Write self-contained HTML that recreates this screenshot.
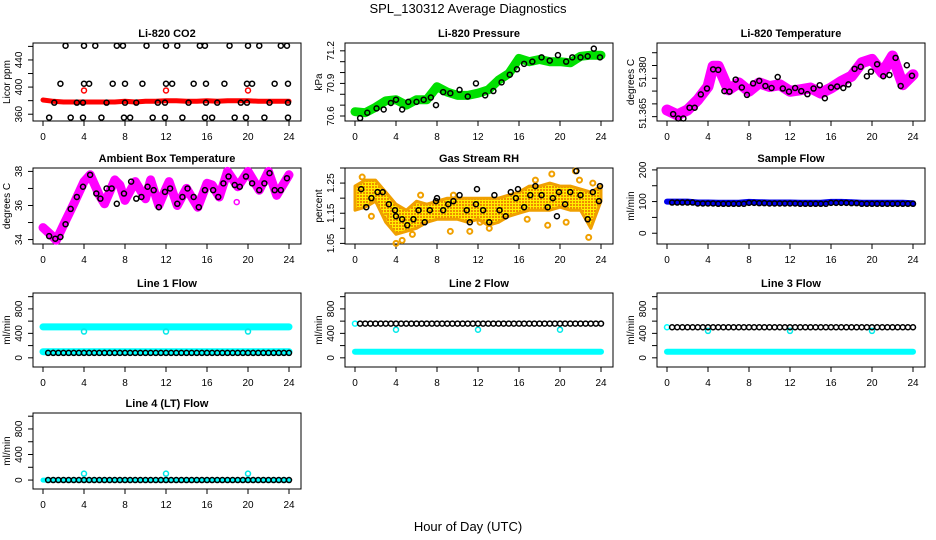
<!DOCTYPE html>
<html><head><meta charset="utf-8"><style>
html,body{margin:0;padding:0;background:#fff;}
svg{display:block;font-family:"Liberation Sans",sans-serif;}
</style></head><body>
<svg id="chart" width="936" height="540" viewBox="0 0 936 540">
<defs>
<pattern id="rhpat" width="3" height="3" patternUnits="userSpaceOnUse"><rect width="3" height="3" fill="#ffee00"/><rect x="0" y="0" width="2" height="2" fill="#f08c00"/></pattern>
</defs>
<text x="468" y="13" text-anchor="middle" font-size="13">SPL_130312  Average Diagnostics</text>
<text x="468" y="531" text-anchor="middle" font-size="13">Hour of Day (UTC)</text>
</svg>
<script>
// ---------- data ----------
const hours = [0,1,2,3,4,5,6,7,8,9,10,11,12,13,14,15,16,17,18,19,20,21,22,23,24];
const xTicks = [0,4,8,12,16,20,24];
// CO2
const co2Red = [381,379,378,378,378,378,378,378,379,378,379,379,380,380,379,379,380,379,380,380,380,379,379,379,379];
const co2Spike = [395,395,395];
const spikeTimes = [4,12,20];
const co2TopT = [2.2,4,5.1,7.2,7.8,10.1,12,13.1,15.3,15.8,18.2,20,21.1,23.2,23.8];
const co2MidT = [1.7,4,4.5,6.8,8,9.7,12,12.6,14.7,15.9,17.7,19.9,20.4,22.6,23.9];
const co2LowT = [1.1,3.3,3.9,6.2,8,9.1,11.2,11.9,14.2,15.9,17,19.3,19.9,22.1,23.9];
const co2BotT = [0.6,2.7,3.9,5.7,7.9,8.5,10.7,11.9,13.6,15.8,16.5,18.7,19.8,21.6,23.9];
const co2Levels = [461,405,377,355];
// Pressure
const presGreen = [70.64,70.63,70.68,70.74,70.75,70.70,70.75,70.75,70.87,70.82,70.79,70.79,70.81,70.84,70.93,70.99,71.13,71.10,71.12,71.10,71.10,71.09,71.15,71.16,71.16];
const presBlackT = [0.5,1.2,2.1,2.8,3.5,4,4.6,5.2,6,6.7,7.4,7.9,8.6,9.3,10.2,11,11.8,12.7,13.5,14.3,15.1,15.8,16.5,17.3,18.2,19,19.8,20.6,21.2,22,22.7,23.3,23.9];
const presBlack = [70.58,70.63,70.67,70.66,70.72,70.75,70.66,70.73,70.73,70.75,70.77,70.70,70.82,70.81,70.84,70.78,70.90,70.79,70.83,70.91,70.98,71.03,71.08,71.10,71.14,71.11,71.16,71.10,71.14,71.14,71.15,71.22,71.14];
// Li-820 temperature
const ltT = [0,1,2,3,4,4.5,5,6,7,8,9,10,11,12,13,14,15,16,17,18,19,20,21,22,23,24];
const ltMag = [51.3676,51.3657,51.3676,51.3716,51.3768,51.3847,51.3847,51.3755,51.3782,51.3749,51.3782,51.3768,51.3775,51.3749,51.3755,51.3762,51.3742,51.3762,51.3788,51.3808,51.3861,51.3874,51.3821,51.3887,51.3775,51.3814];
const ltBlackT = [0.6,1.1,1.6,2.2,2.7,3.3,3.9,4.5,5.0,5.6,6.1,6.7,7.3,7.8,8.4,9.0,9.6,10.2,10.8,11.3,11.9,12.5,13.1,13.7,14.3,14.9,15.4,16.0,16.6,17.2,17.7,18.3,18.9,19.5,19.9,20.5,21.1,21.7,22.3,22.8,23.4,23.9];
const ltBlack = [51.3660,51.3643,51.3643,51.3685,51.3685,51.3737,51.3760,51.3835,51.3833,51.3750,51.3748,51.3795,51.3764,51.3735,51.3780,51.3790,51.3770,51.3762,51.3805,51.3760,51.3748,51.3762,51.3750,51.3738,51.3760,51.3773,51.3722,51.3764,51.3768,51.3762,51.3776,51.3837,51.3845,51.3808,51.3826,51.3855,51.3808,51.3813,51.3880,51.3770,51.3851,51.3810];
// Ambient box temperature
const abT = [0,1,1.3,2,3,4,4.6,5.5,6,7,7.5,8,9,10,10.5,11.3,12,12.3,13.1,14,15.1,16,16.5,17.2,18,19,20,21.1,22,22.8,24];
const abMag = [34.7,34.15,33.96,34.85,36.1,37.4,37.8,36.6,36.1,37.5,37.2,36.3,37.4,36.4,37.5,36.0,37.0,37.4,36.0,37.0,35.9,37.3,37.2,36.5,38.0,37.1,38.0,36.9,38.0,36.6,37.8];
const abBlackT = [0.6,1.2,1.7,2.2,2.7,3.3,3.9,4.6,5.2,5.6,6.2,6.7,7.2,7.9,8.6,9.1,9.6,10.2,10.8,11.3,11.9,12.4,13.1,13.6,14.1,14.7,15.2,15.8,16.6,17.1,17.6,18.1,18.7,19.2,19.8,20.4,21.1,21.6,22.1,22.6,23.2,23.8];
const abBlack = [34.2,34.05,34.15,34.9,35.8,36.5,37.1,37.8,36.7,36.4,37.0,37.0,36.1,36.7,37.4,36.4,36.5,37.1,36.9,35.9,36.8,37.0,36.1,36.5,37.0,36.5,35.9,36.9,36.9,36.5,37.3,37.7,37.2,37.1,37.7,37.3,36.9,37.3,37.9,36.9,36.9,37.6];
// Gas stream RH
const rhUpper = [1.24,1.26,1.26,1.22,1.18,1.16,1.19,1.18,1.19,1.20,1.20,1.20,1.20,1.20,1.20,1.21,1.22,1.24,1.24,1.25,1.24,1.24,1.23,1.22,1.24];
const rhLower = [1.16,1.17,1.19,1.12,1.08,1.09,1.10,1.12,1.13,1.13,1.13,1.12,1.13,1.11,1.12,1.14,1.15,1.16,1.16,1.16,1.17,1.16,1.16,1.10,1.19];
const rhOutT = [0.7,1.6,3.0,4.0,4.6,5.6,6.4,9.3,9.6,11.2,12.2,13.1,16.8,17.6,18.8,19.2,20.6,21.5,21.9,22.8,23.2];
const rhOut = [1.27,1.14,1.14,1.05,1.06,1.08,1.21,1.09,1.21,1.09,1.12,1.10,1.13,1.26,1.11,1.28,1.12,1.29,1.26,1.07,1.25];
const rhBlackT = [0.6,1.1,1.6,2.2,2.7,3.3,3.9,4.0,4.6,5.1,5.7,6.2,6.8,7.3,7.9,8.0,8.6,9.1,9.6,10.2,10.9,11.2,11.8,11.9,12.5,13.1,13.6,14.1,14.7,15.2,15.7,15.9,16.5,17.1,17.6,18.2,18.8,19.3,19.7,19.9,20.5,21.0,21.6,22.0,22.7,23.2,23.8,23.9];
const rhBlack = [1.23,1.17,1.20,1.22,1.22,1.18,1.16,1.14,1.13,1.11,1.13,1.16,1.12,1.16,1.19,1.20,1.16,1.18,1.19,1.21,1.16,1.12,1.18,1.23,1.16,1.12,1.21,1.16,1.14,1.22,1.20,1.23,1.17,1.21,1.24,1.21,1.17,1.20,1.14,1.22,1.18,1.22,1.29,1.21,1.13,1.22,1.19,1.24];
// Sample flow
const sfBlue = [100,100,100,97,97,96,96,96,99,98,97,97,97,96,96,96,99,99,98,96,96,96,96,96,95];
const sfBlack = [97,97,97,94,94,93,93,93,96,95,94,94,94,93,93,93,96,96,95,93,93,93,93,93,93];
// Line flows
const l1Cyan = [505,505,505,505,505,505,505,505,505,505,505,505,505,505,505,505,505,505,505,505,505,505,505,505,505];
const l1CyanLow = [100,100,100,100,100,100,100,100,100,100,100,100,100,100,100,100,100,100,100,100,100,100,100,100,100];
const l1Black = [80,80,80,80,80,80,80,80,80,80,80,80,80,80,80,80,80,80,80,80,80,80,80,80,80];
const l1Dip = [430,430,430];
const l2Black = [560,560,560,560,560,560,560,560,560,560,560,560,560,560,560,560,560,560,560,560,560,560,560,560,560];
const l2Cyan = [100,100,100,100,100,100,100,100,100,100,100,100,100,100,100,100,100,100,100,100,100,100,100,100,100];
const l2Dip = [460,460,460];
const l3Black = [500,500,500,500,500,500,500,500,500,500,500,500,500,500,500,500,500,500,500,500,500,500,500,500,500];
const l3Cyan = [100,100,100,100,100,100,100,100,100,100,100,100,100,100,100,100,100,100,100,100,100,100,100,100,100];
const l3Dip = [440,440,440];
const l4Black = [0,0,0,0,0,0,0,0,0,0,0,0,0,0,0,0,0,0,0,0,0,0,0,0,0];
const l4Spike = [100,100,100];

// ---------- drawing ----------
const NS = "http://www.w3.org/2000/svg";
const svg = document.getElementById('chart');
function mk(tag, attrs, parent){
  const e = document.createElementNS(NS, tag);
  for (const k in attrs) e.setAttribute(k, attrs[k]);
  (parent||svg).appendChild(e);
  return e;
}
const rows = [{top:43,h:78},{top:168,h:76},{top:293,h:74},{top:413,h:76}];
function makePanel(col,row,title,ylab,ymin,ymax,yticks,ylabels,name){
  const off = col*312, r = rows[row];
  const g = mk('g',{});
  
  
  const P = {
    g: g,
    x: t => 43 + off + t*(246/24),
    y: v => r.top + r.h - (v - ymin)/(ymax - ymin)*r.h
  };
  const box = mk('rect',{x:33+off,y:r.top,width:268,height:r.h,fill:'none',stroke:'#000','stroke-width':1},g);
  
  
  const tt = mk('text',{x:167+off,y:r.top-6,'text-anchor':'middle','font-size':11,'font-weight':'bold'},g);
  tt.textContent = title;
  
  
  const yb = r.top + r.h;
  for (const t of xTicks){
    mk('line',{x1:P.x(t),x2:P.x(t),y1:yb,y2:yb+5,stroke:'#000'},g);
    const lt = mk('text',{x:P.x(t),y:yb+19,'text-anchor':'middle','font-size':10},g);
    lt.textContent = t;
    
    
  }
  mk('line',{x1:P.x(0),x2:P.x(24),y1:yb,y2:yb,stroke:'#000'},g);
  for (const v of yticks){
    mk('line',{x1:33+off,x2:28+off,y1:P.y(v),y2:P.y(v),stroke:'#000'},g);
  }
  for (let i=0;i<ylabels.length;i++){
    const v = ylabels[i][0];
    const lt = mk('text',{x:0,y:0,'text-anchor':'middle','font-size':10,transform:`translate(${22+off},${P.y(v)}) rotate(-90)`},g);
    lt.textContent = ylabels[i][1];
    
    
  }
  const yt = mk('text',{x:0,y:0,'text-anchor':'middle','font-size':10,transform:`translate(${10+off},${r.top+r.h/2}) rotate(-90)`},g);
  yt.textContent = ylab;
  
  
  return P;
}
function band(P,ts,vs,color,w){
  const pts = ts.map((t,i)=>P.x(t).toFixed(1)+','+P.y(vs[i]).toFixed(1)).join(' ');
  const pl = mk('polyline',{points:pts,fill:'none',stroke:color,'stroke-width':w,'stroke-linejoin':'round','stroke-linecap':'round'},P.g);
  
  
}
function pts(P,ts,vs,color,r,sw){
  for (let i=0;i<ts.length;i++){
    const c = mk('circle',{cx:P.x(ts[i]),cy:P.y(vs[i]),r:r||2.5,fill:'none',stroke:color,'stroke-width':sw||1.5},P.g);
    
    
  }
}
function halfPts(P,vals,color,start){
  for (let i=0;i<vals.length;i++){
    for (const d of [0, 0.5]){
      const t = i + d;
      if (t < start || t > 24) continue;
      const c = mk('circle',{cx:P.x(t),cy:P.y(vals[i]),r:2.5,fill:'none',stroke:color,'stroke-width':1.5},P.g);
      
      
    }
  }
}

// CO2
let P = makePanel(0,0,'Li-820 CO2','Licor ppm',350,465,[360,380,400,420,440,460],[[360,'360'],[400,'400'],[440,'440']],'co2-panel');
band(P,hours,co2Red,'#ff0000',5);
pts(P,spikeTimes,co2Spike,'#ff0000');
pts(P,co2TopT,co2TopT.map(()=>co2Levels[0]),'#000');
pts(P,co2MidT,co2MidT.map(()=>co2Levels[1]),'#000');
pts(P,co2LowT,co2LowT.map(()=>co2Levels[2]),'#000');
pts(P,co2BotT,co2BotT.map(()=>co2Levels[3]),'#000');

// Pressure
P = makePanel(1,0,'Li-820 Pressure','kPa',70.554,71.272,[70.6,70.7,70.8,70.9,71.0,71.1,71.2],[[70.6,'70.6'],[70.9,'70.9'],[71.2,'71.2']],'pressure-panel');
band(P,hours,presGreen,'#00e000',9);
pts(P,presBlackT,presBlack,'#000');

// Li-820 temperature
P = makePanel(2,0,'Li-820 Temperature','degrees C',51.3633,51.3938,[51.365,51.370,51.375,51.380,51.385,51.390],[[51.3663,'51.365'],[51.3825,'51.380']],'li820-temperature-panel');
band(P,ltT,ltMag,'#ff00ff',11);
pts(P,ltBlackT,ltBlack,'#000');

// Ambient box temperature
P = makePanel(0,1,'Ambient Box Temperature','degrees C',33.74,38.2,[34,35,36,37,38],[[34,'34'],[36,'36'],[38,'38']],'ambient-temperature-panel');
band(P,abT,abMag,'#ff00ff',9);
pts(P,[18.9],[36.2],'#ff00ff');
pts(P,abBlackT,abBlack,'#000');

// Gas stream RH
P = makePanel(1,1,'Gas Stream RH','percent',1.048,1.30,[1.05,1.10,1.15,1.20,1.25,1.30],[[1.05,'1.05'],[1.15,'1.15'],[1.25,'1.25']],'gas-rh-panel');
{
  const up = hours.map((t,i)=>P.x(t).toFixed(1)+','+P.y(rhUpper[i]).toFixed(1));
  const lo = hours.map((t,i)=>P.x(t).toFixed(1)+','+P.y(rhLower[i]).toFixed(1)).reverse();
  const pg = mk('polygon',{points:up.concat(lo).join(' '),fill:'url(#rhpat)',stroke:'#f0a000','stroke-width':3,'stroke-linejoin':'round'},P.g);
  
  
}
pts(P,rhOutT,rhOut,'#f0a000',2.5,2);
pts(P,rhBlackT,rhBlack,'#000');

// Sample flow
P = makePanel(2,1,'Sample Flow','ml/min',-34,206,[0,50,100,150,200],[[0,'0'],[100,'100'],[200,'200']],'sample-flow-panel');
band(P,hours,sfBlue,'#0000ee',6);
halfPts(P,sfBlack,'#000',0.5);

const flowTicks = [0,200,400,600,800,1000];
const flowLabels = [[0,'0'],[400,'400'],[800,'800']];
// Line 1
P = makePanel(0,2,'Line 1 Flow','ml/min',-150,1060,flowTicks,flowLabels,'line1-flow-panel');
band(P,hours,l1Cyan,'#00ffff',7);
band(P,hours,l1CyanLow,'#00ffff',7);
pts(P,spikeTimes,l1Dip,'#00e8e8');
halfPts(P,l1Black,'#000',0.5);
// Line 2
P = makePanel(1,2,'Line 2 Flow','ml/min',-150,1060,flowTicks,flowLabels,'line2-flow-panel');
band(P,hours,l2Cyan,'#00ffff',6);
pts(P,[0],[l2Black[0]],'#00ffff');
pts(P,spikeTimes,l2Dip,'#00e8e8');
halfPts(P,l2Black,'#000',0.5);
// Line 3
P = makePanel(2,2,'Line 3 Flow','ml/min',-150,1060,flowTicks,flowLabels,'line3-flow-panel');
band(P,hours,l3Cyan,'#00ffff',6);
pts(P,[0],[l3Black[0]],'#00ffff');
pts(P,spikeTimes,l3Dip,'#00e8e8');
halfPts(P,l3Black,'#000',0.5);
// Line 4
P = makePanel(0,3,'Line 4 (LT) Flow','ml/min',-140,1050,flowTicks,flowLabels,'line4-flow-panel');
band(P,hours,l4Black,'#00ffff',5);
pts(P,spikeTimes,l4Spike,'#00e8e8');
halfPts(P,l4Black,'#000',0.5);
</script>
</body></html>
